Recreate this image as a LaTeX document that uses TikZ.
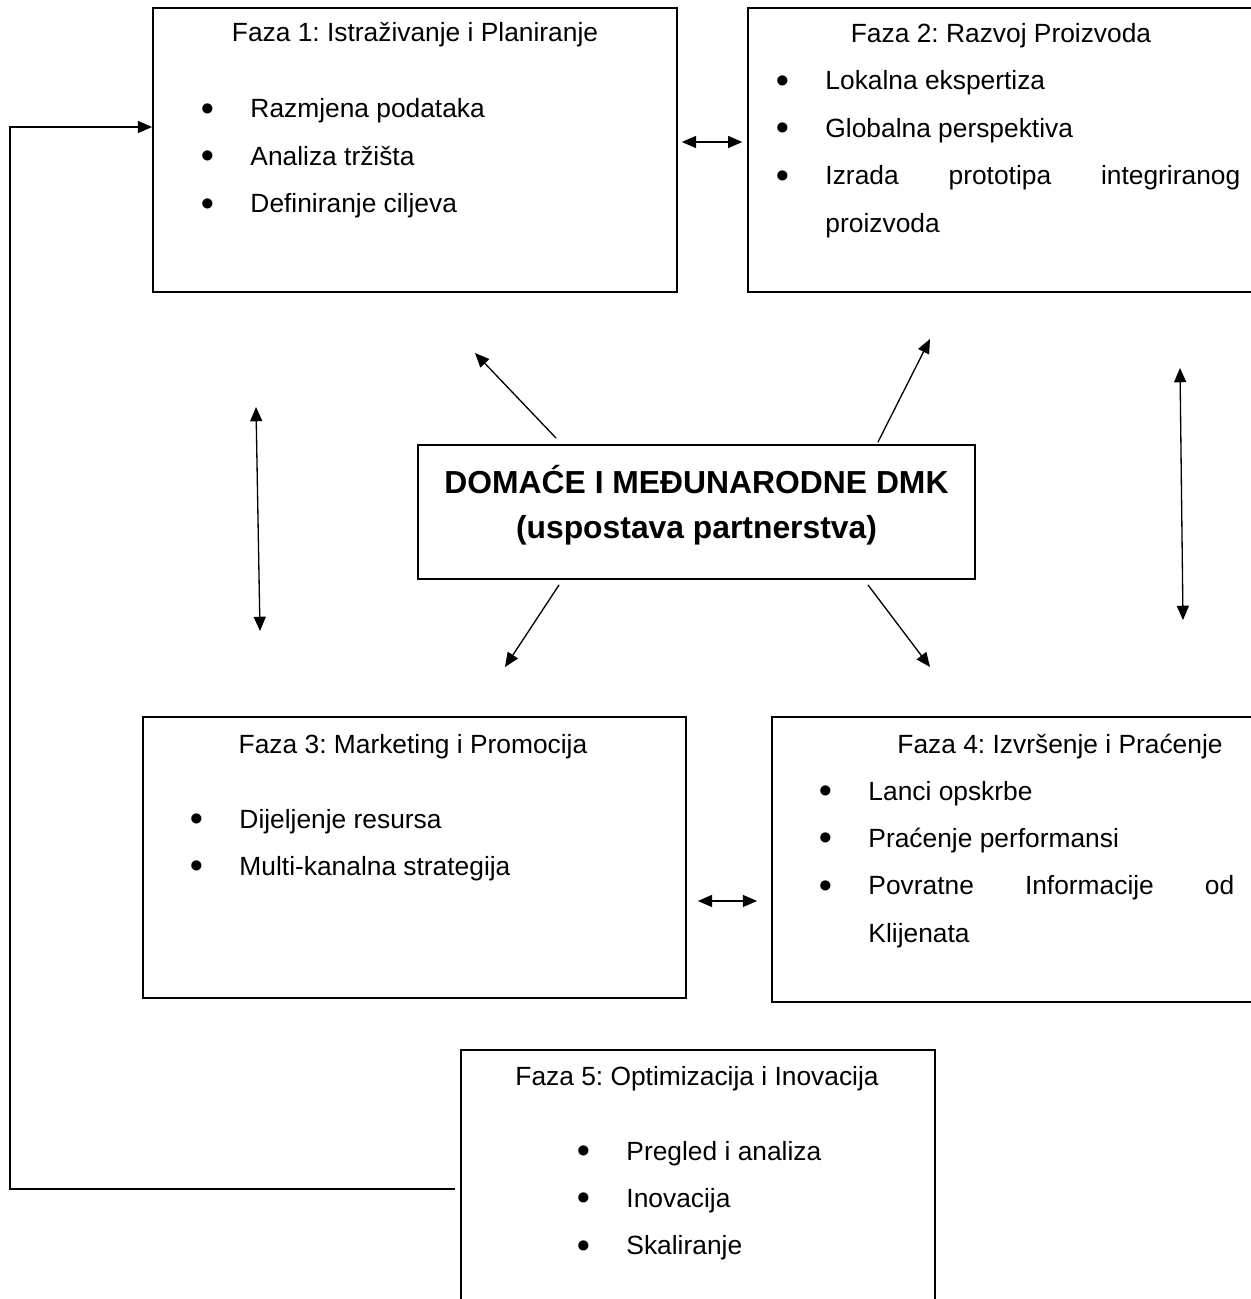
\documentclass[tikz,border=0pt]{standalone}
\usepackage{fontspec}
\setmainfont{Liberation Sans}
\usepackage{tikz}
\usetikzlibrary{arrows.meta, fit, calc}
\frenchspacing

% bullet line with hanging indent
\newcommand{\phaseitem}[1]{\hangindent=19.6pt\hangafter=1\noindent\makebox[19.6pt][l]{\makebox[0pt]{\raisebox{1.2pt}{$\bullet$}}}#1\par}

\begin{document}
\begin{tikzpicture}[
        x=0.016cm, y=-0.016cm,
        phase/.style={draw, line width=0.8pt, inner sep=0pt},
        hub/.style={draw, line width=0.8pt, inner sep=0pt},
        title/.style={anchor=base, inner sep=0pt, font=\fontsize{12}{14}\selectfont},
        hubtext/.style={anchor=base, inner sep=0pt, font=\bfseries\fontsize{14.5}{17}\selectfont},
        itemlist/.style={anchor=base west, inner sep=0pt, align=justify, text width=182pt,
                         font={\fontsize{12}{21.6}\selectfont\parindent=0pt\hyphenpenalty=10000\exhyphenpenalty=10000\tolerance=10000}},
        arrow/.style={line width=0.6pt, -{Triangle[length=6.5pt, width=5.5pt]}},
        dbl/.style={line width=0.6pt, {Triangle[length=6.5pt, width=5.5pt]}-{Triangle[length=6.5pt, width=5.5pt]}}
      ]
      \useasboundingbox (0,0) rectangle (1251,1299);
      \clip (0,0) rectangle (1251,1299);

      % --- Phase boxes ---
      \node (f1) [phase, fit={(153,8) (677,292)}] {};
      \node (f2) [phase, fit={(748,8) (1256,292)}] {};
      \node (f3) [phase, fit={(143,717) (686,998)}] {};
      \node (f4) [phase, fit={(772,717) (1260,1002)}] {};
      \node (f5) [phase, fit={(461,1050) (935,1310)}] {};
      \node (center) [hub, fit={(418,445) (975,579)}] {};

      % Titles
      \node (t1) [title] at (415,42) {Faza 1: Istraživanje i Planiranje};
      \node (t2) [title] at (1001,43) {Faza 2: Razvoj Proizvoda};
      \node (t3) [title] at (413,753) {Faza 3: Marketing i Promocija};
      \node (t4) [title] at (1060,753) {Faza 4: Izvršenje i Praćenje};
      \node (t5) [title] at (697,1085) {Faza 5: Optimizacija i Inovacija};

      % Bullet lists
      \node (l1) [itemlist] at (207,118) {\phaseitem{Razmjena podataka}\phaseitem{Analiza tržišta}\phaseitem{Definiranje ciljeva}};
      \node (l2) [itemlist, text width=208.5pt] at (782,90) {\phaseitem{Lokalna ekspertiza}\phaseitem{Globalna perspektiva}\phaseitem{Izrada prototipa integriranog proizvoda}};
      \node (l3) [itemlist] at (196,828) {\phaseitem{Dijeljenje resursa}\phaseitem{Multi-kanalna strategija}};
      \node (l4) [itemlist, text width=186.2pt] at (825,800) {\phaseitem{Lanci opskrbe}\phaseitem{Praćenje performansi}\phaseitem{Povratne Informacije od Klijenata}};
      \node (l5) [itemlist] at (583,1160) {\phaseitem{Pregled i analiza}\phaseitem{Inovacija}\phaseitem{Skaliranje}};

      % Central partnership box
      \node (hubA) [hubtext] at (696.5,493) {DOMAĆE I MEĐUNARODNE DMK};
      \node (hubB) [hubtext] at (696.5,538) {(uspostava partnerstva)};

      % --- Free ends ---
      \coordinate (toF1) at (475,353);
      \coordinate (toF2) at (930,339);
      \coordinate (toF3) at (505,667);
      \coordinate (toF4) at (930,667);
      \coordinate (leftA) at (256,407);
      \coordinate (leftB) at (260,631);
      \coordinate (rightA) at (1180,368);
      \coordinate (rightB) at (1183,620);
      \coordinate (loop) at (455,1189);
      \coordinate (loopcorner) at (10,1189);

      % --- Arrows ---
      \draw [arrow] ([xshift=2.224cm, yshift=0.096cm]center.north west) -- (toF1);
      \draw [arrow] ([xshift=-1.568cm, yshift=0.032cm]center.north east) -- (toF2);
      \draw [arrow] ([xshift=2.272cm, yshift=-0.08cm]center.south west) -- (toF3);
      \draw [arrow] ([xshift=-1.728cm, yshift=-0.08cm]center.south east) -- (toF4);
      \draw [dbl] (leftA) -- (leftB);
      \draw [dbl] (rightA) -- (rightB);
      \draw [dbl, shorten <=1.8pt, shorten >=2.2pt] ([yshift=0.128cm]f1.east) -- ([yshift=0.128cm]f1.east -| f2.west);
      \draw [dbl, shorten <=5pt, shorten >=6.4pt] ([yshift=-0.696cm]f3.east) -- ([yshift=-0.696cm]f3.east -| f4.west);
      \draw [arrow] (loop) -- (loopcorner) |- ([yshift=0.368cm]f1.west);

    \end{tikzpicture}
\end{document}
